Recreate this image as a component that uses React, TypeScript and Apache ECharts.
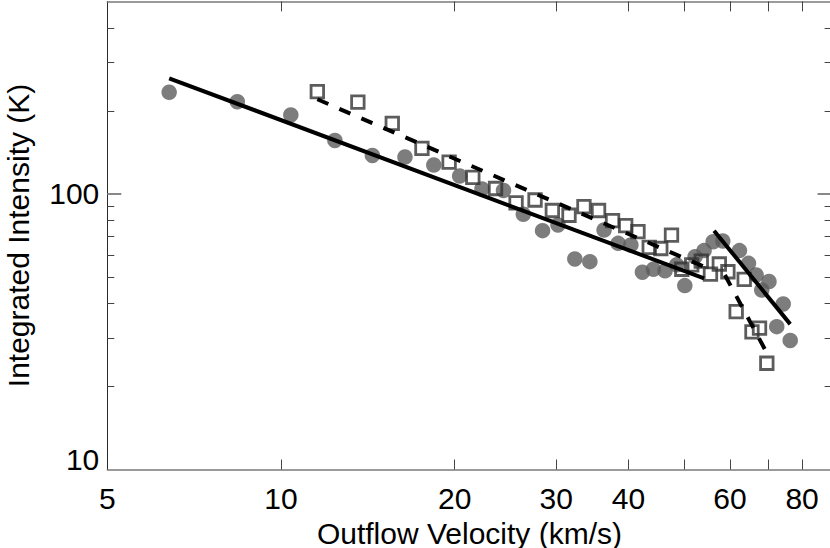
import React, { useEffect, useRef } from "react";
import * as echarts from "echarts";

// Filled circles
const circleVelocity = [6.4, 8.4, 10.4, 12.4, 14.4, 16.4, 18.4, 20.4, 22.3, 24.3, 26.3, 28.4, 30.2, 32.3, 34.3, 36.3, 38.4, 40.4, 42.3, 44.2, 46.3, 48.5, 50.1, 52.2, 54.1, 56.1, 58.3, 62.3, 64.6, 66.6, 68.1, 70.1, 72.3, 74.2, 76.3];
const circleIntensity = [233.9, 216.3, 193.5, 156.4, 138.0, 136.2, 127.4, 116.2, 104.3, 103.0, 84.4, 73.6, 77.2, 58.1, 56.8, 74.0, 66.2, 65.3, 52.0, 53.3, 52.6, 55.3, 46.5, 59.2, 62.3, 67.1, 67.5, 62.3, 56.0, 50.8, 44.8, 48.1, 33.0, 39.9, 29.4];

// Open squares
const squareVelocity = [11.56, 13.59, 15.59, 17.55, 19.56, 21.5, 23.54, 25.55, 27.56, 29.53, 31.56, 33.5, 35.51, 37.55, 39.57, 41.56, 43.47, 45.52, 47.51, 49.5, 51.5, 53.5, 55.5, 57.5, 59.5, 61.5, 63.5, 65.5, 67.5, 69.5];
const squareIntensity = [235.3, 215.4, 180.4, 146.3, 130.5, 114.8, 104.7, 92.8, 95.1, 87.1, 83.7, 89.9, 87.1, 80.1, 76.7, 73.0, 64.0, 63.4, 70.9, 53.3, 55.3, 57.1, 51.2, 55.7, 52.2, 37.4, 49.0, 31.6, 32.6, 24.3];

// Power-law fits (end points)
const solidFit1 = [[6.4, 263], [54.1, 49.4]];
const solidFit2 = [[56.3, 73.6], [76.3, 33.7]];
const dashedFit1 = [[11.56, 220.7], [56.1, 52.7]];
const dashedFit2 = [[58.8, 50.8], [69.3, 26.8]];

// Axes
const xLabelValues = [5, 10, 20, 30, 40, 60, 80];
const xTickValues = [10, 20, 30, 40, 50, 60, 70, 80];
const yLabelValues = [10, 100];
const yMajorTicks = [100];
const yMinorTicks = [20, 30, 40, 50, 60, 70, 80, 90, 200, 300, 400];

const FONT = "'Liberation Sans', Arial, Helvetica, sans-serif";

export default function App() {
  const ref = useRef<HTMLDivElement>(null);
  useEffect(() => {
    if (!ref.current) return;
    const chart = echarts.init(ref.current, null, { renderer: "svg" });
    const xBase = (position: "top" | "bottom", showLabel: boolean) => ({
      type: "log" as const,
      logBase: 10,
      min: 5,
      max: 90,
      position,
      axisLine: { show: true, onZero: false, lineStyle: { color: "#7a7a7a", width: 1.5 } },
      axisTick: { show: true, inside: true, length: 10, customValues: xTickValues, lineStyle: { color: "#444", width: 1 } },
      axisLabel: {
        show: showLabel,
        customValues: xLabelValues,
        margin: 14,
        fontSize: 30,
        color: "#000",
        fontFamily: FONT,
      },
      splitLine: { show: false },
    });
    const yBase = (position: "left" | "right", ticks: number[], len: number, color: string, w: number, line: boolean) => ({
      type: "log" as const,
      logBase: 10,
      min: 10,
      max: 500,
      position,
      axisLine: { show: line, onZero: false, lineStyle: { color: "#2a2a2a", width: 1 } },
      axisTick: { show: true, inside: true, length: len, customValues: ticks, lineStyle: { color, width: w } },
      axisLabel: { show: false },
      splitLine: { show: false },
    });
    const yMain: any = yBase("left", yMajorTicks, 14, "#888", 2, true);
    yMain.axisLabel = {
      show: true,
      customValues: yLabelValues,
      margin: 8,
      fontSize: 30,
      color: "#000",
      fontFamily: FONT,
      formatter: (v: number) => (v === 10 ? "{low|10}" : "{n|" + v + "}"),
      rich: {
        low: { fontSize: 30, fontFamily: FONT, color: "#000", padding: [0, 0, 20, 0] },
        n: { fontSize: 30, fontFamily: FONT, color: "#000" },
      },
    };
    yMain.name = "Integrated Intensity (K)";
    yMain.nameLocation = "middle";
    yMain.nameGap = 74;
    yMain.nameTextStyle = { fontSize: 30, color: "#000", fontFamily: FONT };

    const xMain: any = xBase("bottom", true);
    xMain.name = "Outflow Velocity (km/s)";
    xMain.nameLocation = "middle";
    xMain.nameGap = 45;
    xMain.nameTextStyle = { fontSize: 30, lineHeight: 30, color: "#000", fontFamily: FONT };

    const lineSeries = (data: number[][], dashed: boolean) => ({
      type: "line" as const,
      data,
      showSymbol: false,
      symbol: "none",
      silent: true,
      z: 5,
      lineStyle: { color: "#000", width: 4, type: dashed ? [12, 12] : "solid" },
    });

    chart.setOption({
      animation: false,
      backgroundColor: "#fff",
      grid: { left: 107.3, right: -1.6, top: 1.4, bottom: 78.5, containLabel: false, outerBoundsMode: "none" },
      xAxis: [xMain, xBase("top", false)],
      yAxis: [
        yMain,
        yBase("left", yMinorTicks, 7, "#444", 1, false),
        yBase("right", yMajorTicks, 14, "#888", 2, true),
        yBase("right", yMinorTicks, 7, "#444", 1, false),
      ],
      series: [
        {
          type: "scatter",
          data: circleVelocity.map((v, i) => [v, circleIntensity[i]]),
          symbol: "circle",
          symbolSize: 15.5,
          itemStyle: { color: "#5c5c5c" },
          z: 2,
        },
        {
          type: "scatter",
          data: squareVelocity.map((v, i) => [v, squareIntensity[i]]),
          symbol: "rect",
          symbolSize: 12.5,
          itemStyle: { color: "rgba(0,0,0,0)", borderColor: "#333", borderWidth: 2.8 },
          z: 3,
        },
        lineSeries(solidFit1, false),
        lineSeries(solidFit2, false),
        lineSeries(dashedFit1, true),
        lineSeries(dashedFit2, true),
      ],
    });
    return () => chart.dispose();
  }, []);
  return (
    <div
      ref={ref}
      style={{ position: "absolute", left: 0, top: 0, width: 830, height: 548, background: "#fff" }}
    />
  );
}
